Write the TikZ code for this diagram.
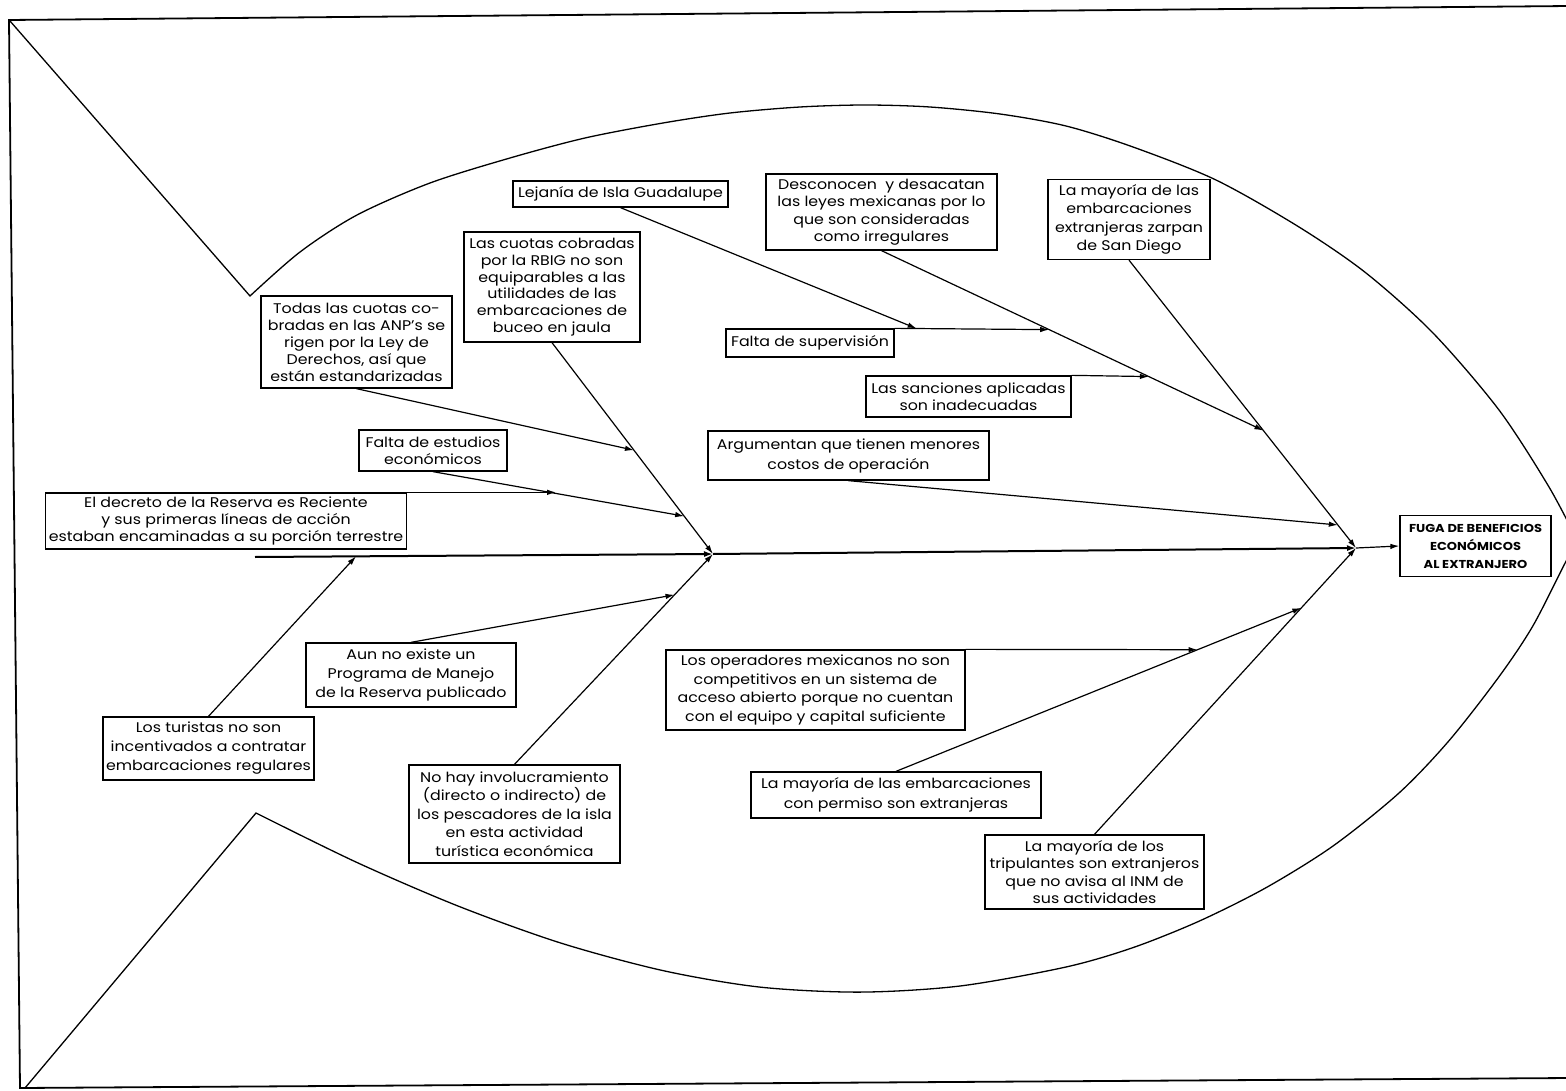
\documentclass[tikz,border=0pt]{standalone}
\usepackage{fontspec}
\setmainfont{Poppins}[FakeStretch=1.13]
\usetikzlibrary{arrows.meta,calc}
\newcommand\cf[1]{\fontsize{14}{#1}\selectfont}
\newcommand\ff{\fontsize{11.5}{18}\selectfont\bfseries}
\begin{document}
\begin{tikzpicture}[x=1pt,y=-1pt,
  box/.style={draw,line width=1.3pt,inner sep=1pt,align=center,font=\cf{17.5}},
  conn/.style={line width=1.2pt,-{Latex[length=9pt,width=5.5pt]}},
  outline/.style={line width=1.3pt},
  spine/.style={line width=2pt,-{Latex[length=9pt,width=6pt]}},
  frame/.style={line width=1.8pt}
]
\useasboundingbox (0,0) rectangle (1566,1091);
% frame
\draw[frame] (1570,6) -- (9,20) -- (20,1088) -- (1570,1078);
% fish outline
\draw[outline] (10,21) -- plot[smooth,tension=0.5] coordinates {(250,296) (300,252) (357,215) (430,183) (510,158) (585,138) (663,123) (730,113) (800,107) (865,105) (930,107) (1000,114) (1066,126) (1133,147) (1216,180) (1299,227) (1366,273) (1433,333) (1499,410) (1549,487) (1578,542)};
\draw[outline] (25,1088) -- plot[smooth,tension=0.5] coordinates {(256,813) (357,862.5) (459,906.4) (561,943.1) (663,970.6) (760,987.1) (860,992.1) (960,986) (1066,967) (1133,947.6) (1199,921.2) (1266,887.7) (1333,846) (1399,793) (1449,740.7) (1499,676.7) (1533,625.7) (1566,561.3) (1578,542)};

% nodes
\node[box,minimum width=215pt,minimum height=26pt] (lejania) at (620.5,194) {Lejanía de Isla Guadalupe};
\node[box,minimum width=176pt,minimum height=110pt,font=\cf{16.7}] (cuotas) at (552,287) {Las cuotas cobradas\\por la RBIG no son\\equiparables a las\\utilidades de las\\embarcaciones de\\buceo en jaula};
\node[box,minimum width=191pt,minimum height=92pt,font=\cf{17}] (todas) at (356.5,342) {Todas las cuotas co-\\bradas en las ANP’s se\\rigen por la Ley de\\Derechos, así que\\están estandarizadas};
\node[box,minimum width=148pt,minimum height=41pt] (faltaEst) at (433,450.5) {Falta de estudios\\económicos};
\node[box,minimum width=361pt,minimum height=56pt,font=\cf{16.7}] (decreto) at (226,521) {El decreto de la Reserva es Reciente\\y sus primeras líneas de acción\\estaban encaminadas a su porción terrestre};
\node[box,minimum width=231pt,minimum height=76pt] (desconocen) at (881.5,212) {Desconocen\ \ y desacatan\\las leyes mexicanas por lo\\que son consideradas\\como irregulares};
\node[box,minimum width=162pt,minimum height=80pt,font=\cf{18.5}] (zarpan) at (1129,219.5) {La mayoría de las\\embarcaciones\\extranjeras zarpan\\de San Diego};
\node[box,minimum width=168pt,minimum height=28pt] (faltaSup) at (810,343) {Falta de supervisión};
\node[box,minimum width=205pt,minimum height=41pt] (sanciones) at (968.5,396.5) {Las sanciones aplicadas\\son inadecuadas};
\node[box,minimum width=281pt,minimum height=49pt,font=\cf{20}] (argumentan) at (848.5,455.5) {Argumentan que tienen menores\\costos de operación};
\node[box,minimum width=151pt,minimum height=61pt,font=\ff] (fuga) at (1475.5,546) {FUGA DE BENEFICIOS\\ECONÓMICOS\\AL EXTRANJERO};
\node[box,minimum width=299pt,minimum height=80pt,font=\cf{18.5}] (operadores) at (815.5,690) {Los operadores mexicanos no son\\competitivos en un sistema de\\acceso abierto porque no cuentan\\con el equipo y capital suficiente};
\node[box,minimum width=290pt,minimum height=46pt,font=\cf{20}] (permiso) at (896,795) {La mayoría de las embarcaciones\\con permiso son extranjeras};
\node[box,minimum width=219pt,minimum height=74pt] (tripulantes) at (1094.5,872) {La mayoría de los\\tripulantes son extranjeros\\que no avisa al INM de\\sus actividades};
\node[box,minimum width=211pt,minimum height=63pt,font=\cf{19}] (turistas) at (208.5,748.5) {Los turistas no son\\incentivados a contratar\\embarcaciones regulares};
\node[box,minimum width=210pt,minimum height=64pt,font=\cf{19}] (aun) at (411,675) {Aun no existe un\\Programa de Manejo\\de la Reserva publicado};
\node[box,minimum width=211pt,minimum height=98pt,font=\cf{18.5}] (nohay) at (514.5,814) {No hay involucramiento\\(directo o indirecto) de\\los pescadores de la isla\\en esta actividad\\turística económica};

% junctions
\coordinate (tail) at (255,557);
\coordinate (cL) at (713,554);
\coordinate (cR) at (1356,548);
\coordinate (jTodas) at ($(cuotas.south)!0.509!(cL)$);
\coordinate (jFalta) at ($(cuotas.south)!0.821!(cL)$);
\coordinate (jDecreto) at ($(faltaEst.south)!0.49!(jFalta)$);
\coordinate (decStart) at (decreto.north east);
\coordinate (jTur) at ($(tail)!0.2205!(cL)$);
\coordinate (jAun) at ($(nohay.north)!0.806!(cL)$);
\coordinate (jDesc) at ($(zarpan.south)!0.592!(cR)$);
\coordinate (jArg) at ($(zarpan.south)!0.92!(cR)$);
\coordinate (jSup) at ($(desconocen.south)!0.439!(jDesc)$);
\coordinate (jSan) at ($(desconocen.south)!0.70!(jDesc)$);
\coordinate (jLej) at ($(faltaSup.north east)!0.142!(jSup)$);
\coordinate (jPerm) at ($(tripulantes.north)!0.791!(cR)$);
\coordinate (jOp) at ($(permiso.north)!0.744!(jPerm)$);

% spine
\draw[spine] (tail) -- (cL);
\draw[spine] (cL) -- (cR);
\draw[conn] (cR) -- (fuga.west);

% left causes
\draw[conn] (cuotas.south) -- (cL);
\draw[conn] (todas.south) -- (jTodas);
\draw[conn] (faltaEst.south) -- (jFalta);
\draw[conn] (decStart) -- (decStart -| jDecreto);
\draw[conn] (turistas.north) -- (jTur);
\draw[conn] (nohay.north) -- (cL);
\draw[conn] (aun.north) -- (jAun);

% right causes
\draw[conn] (zarpan.south) -- (cR);
\draw[conn] (desconocen.south) -- (jDesc);
\draw[conn] (faltaSup.north east) -- (jSup);
\draw[conn] (lejania.south) -- (jLej);
\draw[conn] (sanciones.north east) -- (jSan);
\draw[conn] (argumentan.south) -- (jArg);
\draw[conn] (tripulantes.north) -- (cR);
\draw[conn] (permiso.north) -- (jPerm);
\draw[conn] (operadores.north east) -- (jOp);
\end{tikzpicture}
\end{document}
